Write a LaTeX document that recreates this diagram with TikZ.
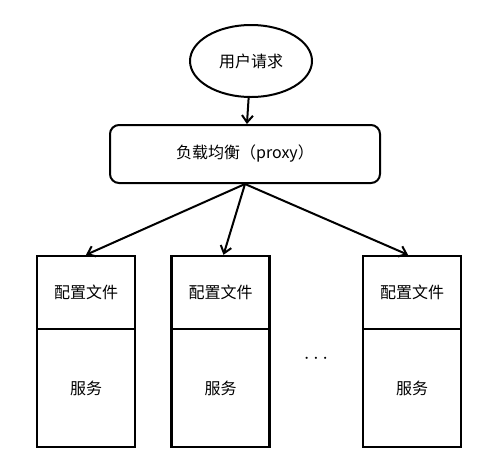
\documentclass[tikz,border=0pt]{standalone}
\usepackage{fontspec}
\setmainfont{Noto Sans CJK SC}
\usetikzlibrary{arrows.meta,positioning,shapes.geometric}

\begin{document}
\begin{tikzpicture}
    [
      x=1pt,y=-1pt,
      every node/.style={font=\fontsize{16}{19}\selectfont},
      request/.style={ellipse,draw,line width=2pt,minimum width=122pt,minimum height=72pt},
      proxy/.style={rounded corners=9pt,draw,line width=2pt,minimum width=270pt,minimum height=58pt},
      cfgbox/.style={rectangle,draw,line width=2.4pt,minimum width=98pt,minimum height=73pt},
      svcbox/.style={rectangle,draw,line width=2.4pt,minimum width=98pt,minimum height=118pt},
      post/.style={-{Straight Barb[length=7pt,width=11pt]},line width=2pt},
    ]

    \useasboundingbox (0,0) rectangle (494,459);

    \node (user) [request] at (251,61) {用户请求};
    \node (lb) [proxy] at (245,154) {负载均衡（proxy）};

    \node (cfg-a) [cfgbox] at (86,292.5) {配置文件};
    \node (svc-a) [svcbox] at (86,388) {服务};
    \node (cfg-b) [cfgbox] at (220.5,292.5) {配置文件};
    \node (svc-b) [svcbox] at (220.5,388) {服务};
    \node (cfg-c) [cfgbox] at (412,292.5) {配置文件};
    \node (svc-c) [svcbox] at (412,388) {服务};

    \node (dots) [font=\fontsize{22}{22}\selectfont\bfseries] at (316,359) {$\cdots$};

    \path
    (user) edge [post] (lb)

    (lb.south) edge [post] (cfg-a.north)
    (lb.south) edge [post] ([xshift=3pt]cfg-b.north)
    (lb.south) edge [post] ([xshift=-4pt]cfg-c.north)
    ;

  \end{tikzpicture}
\end{document}
